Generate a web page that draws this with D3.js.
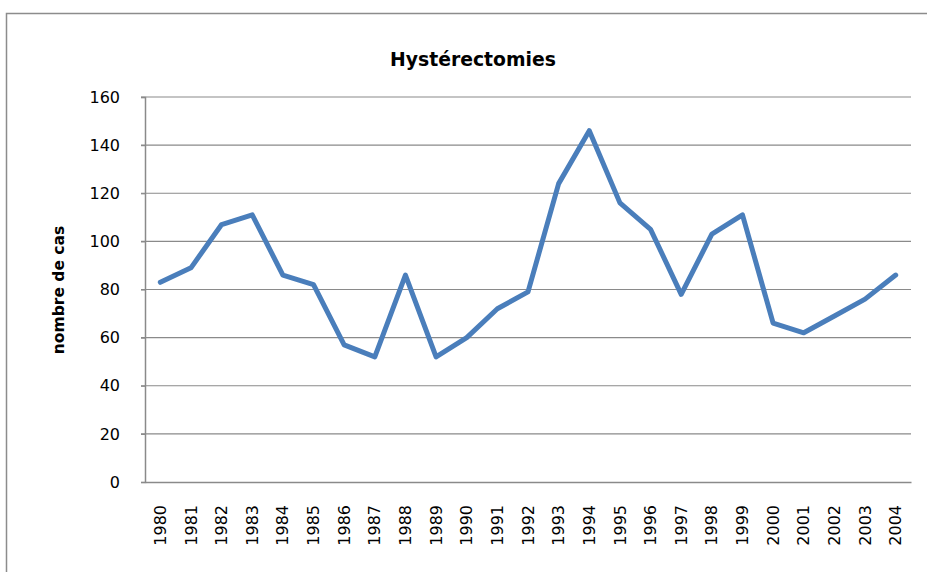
<!DOCTYPE html>
<html><head><meta charset="utf-8">
<script src="https://cdn.jsdelivr.net/npm/d3@7"></script>
<style>body{margin:0;background:#fff}</style>
</head><body>
<svg id="c" width="927" height="572"></svg>
<script>
const years = ["1980","1981","1982","1983","1984","1985","1986","1987","1988","1989","1990","1991","1992","1993","1994","1995","1996","1997","1998","1999","2000","2001","2002","2003","2004"];
const values = [83,89,107,111,86,82,57,52,86,52,60,72,79,124,146,116,105,78,103,111,66,62,69,76,86];
const yTicks = [0,20,40,60,80,100,120,140,160];
const title = "Hystérectomies";
const yTitle = "nombre de cas";

const svg = d3.select("#c");
const m = {l:145, r:911, t:97, b:482};
svg.append("rect").attr("x",6.5).attr("y",13.5).attr("width",940).attr("height",600)
  .attr("fill","#fff").attr("stroke","#8c8c8c").attr("stroke-width",1.5);

const x = d3.scaleBand().domain(years).range([m.l,m.r]);
const y = d3.scaleLinear().domain([0,160]).range([m.b,m.t]);

svg.append("g").selectAll("line").data(yTicks.filter(d=>d>0)).join("line")
  .attr("x1",m.l-4).attr("x2",m.r).attr("y1",d=>y(d)).attr("y2",d=>y(d))
  .attr("stroke","#8a8a8a").attr("stroke-width",1.2);

const ya = svg.append("g").attr("transform",`translate(${m.l},0)`)
  .call(d3.axisLeft(y).tickValues(yTicks).tickSize(4).tickPadding(21));
ya.select(".domain").attr("stroke","#8a8a8a").attr("stroke-width",1.5);
ya.selectAll(".tick line").attr("stroke","#8a8a8a").attr("stroke-width",1.2);
ya.selectAll("text").attr("font-family","DejaVu Sans").attr("font-size",16).attr("fill","#000");

const xa = svg.append("g").attr("transform",`translate(0,${m.b})`)
  .call(d3.axisBottom(x).tickSize(0));
xa.select(".domain").attr("stroke","#8a8a8a").attr("stroke-width",1.5);
xa.selectAll("text").attr("font-family","DejaVu Sans").attr("font-size",16).attr("fill","#000")
  .attr("text-anchor","end").attr("dy","0.35em")
  .attr("transform","translate(0,23) rotate(-90)").attr("x",0).attr("y",0);

const line = d3.line().x((d,i)=>x(years[i])+x.bandwidth()/2).y(d=>y(d));
svg.append("path").datum(values).attr("d",line).attr("fill","none")
  .attr("stroke","#4a7ebb").attr("stroke-width",5).attr("stroke-linejoin","round").attr("stroke-linecap","round");

svg.append("text").attr("x",473).attr("y",66).attr("text-anchor","middle")
  .attr("font-family","DejaVu Sans").attr("font-weight","bold").attr("font-size",18.8).text(title);
svg.append("text").attr("transform","translate(64,290) rotate(-90)").attr("text-anchor","middle")
  .attr("font-family","DejaVu Sans").attr("font-weight","bold").attr("font-size",15.5).text(yTitle);
</script>
</body></html>
